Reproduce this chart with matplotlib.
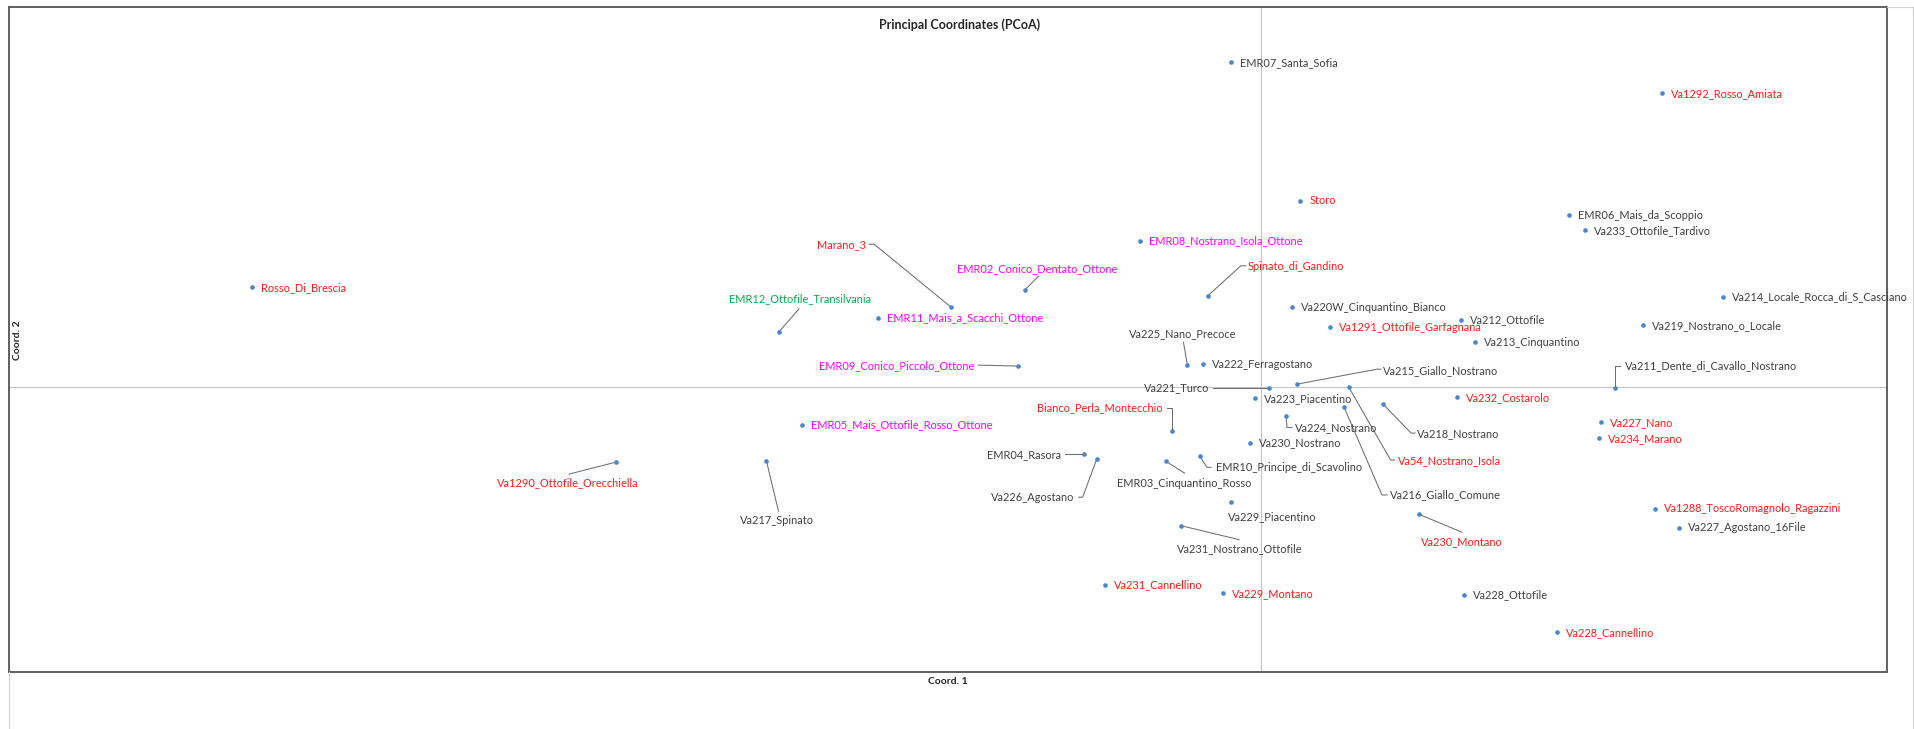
import matplotlib
matplotlib.use("Agg")
import matplotlib.pyplot as plt
from matplotlib.lines import Line2D
from matplotlib.transforms import IdentityTransform

plt.rcParams['font.family'] = ['Lato', 'DejaVu Sans']

# PCoA scores of the maize accessions
names = [
    "Rosso_Di_Brescia", "EMR07_Santa_Sofia", "Va1292_Rosso_Amiata", "Storo",
    "EMR06_Mais_da_Scoppio", "Va233_Ottofile_Tardivo", "EMR08_Nostrano_Isola_Ottone",
    "Marano_3", "EMR02_Conico_Dentato_Ottone", "Spinato_di_Gandino",
    "EMR12_Ottofile_Transilvania", "EMR11_Mais_a_Scacchi_Ottone",
    "Va220W_Cinquantino_Bianco", "Va1291_Ottofile_Garfagnana", "Va212_Ottofile",
    "Va213_Cinquantino", "Va214_Locale_Rocca_di_S_Casciano", "Va219_Nostrano_o_Locale",
    "Va225_Nano_Precoce", "Va222_Ferragostano", "EMR09_Conico_Piccolo_Ottone",
    "Va221_Turco", "Va215_Giallo_Nostrano", "Va54_Nostrano_Isola", "Va223_Piacentino",
    "Va224_Nostrano", "Va216_Giallo_Comune", "Va218_Nostrano",
    "Va211_Dente_di_Cavallo_Nostrano", "Va232_Costarolo", "Va227_Nano", "Va234_Marano",
    "Bianco_Perla_Montecchio", "EMR05_Mais_Ottofile_Rosso_Ottone", "Va230_Nostrano",
    "EMR04_Rasora", "Va226_Agostano", "Va217_Spinato", "Va1290_Ottofile_Orecchiella",
    "EMR03_Cinquantino_Rosso", "EMR10_Principe_di_Scavolino", "Va229_Piacentino",
    "Va231_Nostrano_Ottofile", "Va230_Montano", "Va1288_ToscoRomagnolo_Ragazzini",
    "Va227_Agostano_16File", "Va231_Cannellino", "Va229_Montano", "Va228_Ottofile",
    "Va228_Cannellino",
]
coord1 = [
    -0.645, -0.019, 0.256, 0.025,
    0.197, 0.207, -0.077,
    -0.198, -0.151, -0.034,
    -0.308, -0.245,
    0.020, 0.044, 0.128,
    0.137, 0.295, 0.244,
    -0.047, -0.037, -0.155,
    0.005, 0.023, 0.056, -0.004,
    0.016, 0.053, 0.078,
    0.226, 0.125, 0.217, 0.216,
    -0.057, -0.293, -0.007,
    -0.113, -0.105, -0.316, -0.412,
    -0.061, -0.039, -0.019,
    -0.051, 0.101, 0.252,
    0.267, -0.100, -0.024, 0.130,
    0.189,
]
coord2 = [
    0.105, 0.342, 0.309, 0.196,
    0.181, 0.165, 0.154,
    0.084, 0.102, 0.096,
    0.058, 0.073,
    0.084, 0.063, 0.071,
    0.047, 0.095, 0.065,
    0.023, 0.024, 0.022,
    -0.001, 0.003, 0.000, -0.012,
    -0.031, -0.021, -0.018,
    -0.001, -0.011, -0.037, -0.054,
    -0.046, -0.040, -0.059,
    -0.071, -0.076, -0.078, -0.079,
    -0.078, -0.073, -0.121,
    -0.146, -0.134, -0.128,
    -0.148, -0.208, -0.217, -0.219,
    -0.258,
]
# accession group: A = reference lines, B = local varieties, C = Ottone, D = Transilvania
groups = [
    "B", "A", "B", "B",
    "A", "A", "C",
    "B", "C", "B",
    "D", "C",
    "A", "B", "A",
    "A", "A", "A",
    "A", "A", "C",
    "A", "A", "B", "A",
    "A", "A", "A",
    "A", "B", "B", "B",
    "B", "C", "A",
    "A", "A", "A", "B",
    "A", "A", "A",
    "A", "B", "B",
    "A", "B", "B", "A",
    "B",
]

group_colors = {"A": "#404040", "B": "#FF1A1A", "C": "#FF00FF", "D": "#00B050"}
marker_color = "#4A86C8"
leader_color = "#6E6E6E"

# label placement in pixels relative to the marker (dy grows downward),
# with optional leader-line vertices
default_label = dict(dx=9, dy=0, ha="left", leader=None)
label_layout = {
    "Marano_3": dict(dx=-85, dy=-63, ha="right", leader=[(0, 0), (-77, -63), (-82, -63)]),
    "EMR02_Conico_Dentato_Ottone": dict(dx=13, dy=-22, ha="center", leader=[(0, 0), (14, -14)]),
    "Spinato_di_Gandino": dict(dx=40, dy=-29, ha="left", leader=[(0, 0), (33, -30), (38, -30)]),
    "EMR12_Ottofile_Transilvania": dict(dx=21, dy=-33, ha="center", leader=[(0, 0), (20, -23)]),
    "Va225_Nano_Precoce": dict(dx=-5, dy=-32, ha="center", leader=[(0, 0), (-4, -23)]),
    "EMR09_Conico_Piccolo_Ottone": dict(dx=-44, dy=-1, ha="right", leader=[(0, 0), (-40, -1)]),
    "Va221_Turco": dict(dx=-59, dy=0, ha="right", leader=[(0, 0), (-56, 0)]),
    "Va215_Giallo_Nostrano": dict(dx=86, dy=-14, ha="left", leader=[(0, 0), (80, -15), (84, -15)]),
    "Va54_Nostrano_Isola": dict(dx=49, dy=74, ha="left", leader=[(0, 0), (42, 73), (46, 73)]),
    "Va224_Nostrano": dict(dx=9, dy=11, ha="left", leader=[(0, 0), (1, 11), (6, 11)]),
    "Va216_Giallo_Comune": dict(dx=46, dy=88, ha="left", leader=[(0, 0), (38, 88), (43, 88)]),
    "Va218_Nostrano": dict(dx=34, dy=29, ha="left", leader=[(0, 0), (28, 29), (32, 29)]),
    "Va211_Dente_di_Cavallo_Nostrano": dict(dx=10, dy=-22, ha="left", leader=[(0, 0), (0, -22), (5, -22)]),
    "Bianco_Perla_Montecchio": dict(dx=-9, dy=-23, ha="right", leader=[(0, 0), (0, -23), (-5, -23)]),
    "EMR04_Rasora": dict(dx=-23, dy=0, ha="right", leader=[(0, 0), (-19, 0)]),
    "Va226_Agostano": dict(dx=-22, dy=38, ha="right", leader=[(0, 0), (-14, 38), (-18, 38)]),
    "Va217_Spinato": dict(dx=11, dy=59, ha="center", leader=[(0, 0), (12, 50)]),
    "Va1290_Ottofile_Orecchiella": dict(dx=-48, dy=21, ha="center", leader=[(0, 0), (-47, 12)]),
    "EMR03_Cinquantino_Rosso": dict(dx=19, dy=22, ha="center", leader=[(0, 0), (19, 12)]),
    "EMR10_Principe_di_Scavolino": dict(dx=16, dy=11, ha="left", leader=[(0, 0), (7, 11), (11, 11)]),
    "Va229_Piacentino": dict(dx=41, dy=15, ha="center", leader=None),
    "Va231_Nostrano_Ottofile": dict(dx=59, dy=23, ha="center", leader=[(0, 0), (58, 14)]),
    "Va230_Montano": dict(dx=43, dy=27, ha="center", leader=[(0, 0), (43, 18)]),
}

W, H, DPI = 1914, 729, 100
fig = plt.figure(figsize=(W / DPI, H / DPI), dpi=DPI)
fig.patch.set_facecolor("white")

# plot area in pixel units
left, right, top, bottom = 9, 1887, 7, 672
ax = fig.add_axes([left / W, (H - bottom) / H, (right - left) / W, (bottom - top) / H])
ax.set_xlim(-0.8, 0.4)
ax.set_ylim(-0.3, 0.4)
ax.set_xticks([])
ax.set_yticks([])
for sp in ax.spines.values():
    sp.set_color("#606060")
    sp.set_linewidth(1.4)

ax.axhline(0, color="#C4C4C4", lw=0.8, zorder=1)
ax.axvline(0, color="#C4C4C4", lw=0.8, zorder=1)

ax.scatter(coord1, coord2, marker="o", s=11, color=marker_color, linewidths=0, zorder=4)

for name, x, y, g in zip(names, coord1, coord2, groups):
    lay = label_layout.get(name, default_label)
    px, py = ax.transData.transform((x, y))
    if lay["leader"]:
        xs = [px + dx for dx, dy in lay["leader"]]
        ys = [py - dy for dx, dy in lay["leader"]]
        ax.add_artist(Line2D(xs, ys, transform=IdentityTransform(),
                             color=leader_color, lw=0.75, zorder=3))
    ax.annotate(name, xy=(x, y), xytext=(lay["dx"], -lay["dy"]),
                textcoords="offset pixels", ha=lay["ha"], va="center",
                fontsize=7.9, color=group_colors[g], zorder=5)

fig.text(960 / W, 1 - 25 / H, "Principal Coordinates (PCoA)", ha="center", va="center",
         fontsize=9, fontweight="bold", color="#262626")
fig.text(948 / W, 1 - 682 / H, "Coord. 1", ha="center", va="center",
         fontsize=7.5, fontweight="bold", color="#262626")
fig.text(17 / W, 1 - 340 / H, "Coord. 2", ha="center", va="center", rotation=90,
         fontsize=7.5, fontweight="bold", color="#262626")

# outer chart border
for xs, ys in [([9, 9], [672, H]), ([1913, 1913], [7, H]), ([1887, 1913], [7, 7])]:
    fig.add_artist(Line2D([v / W for v in xs], [1 - v / H for v in ys],
                          transform=fig.transFigure, color="#D0D0D0", lw=0.8))

fig.savefig("out.png", dpi=DPI, facecolor="white")
